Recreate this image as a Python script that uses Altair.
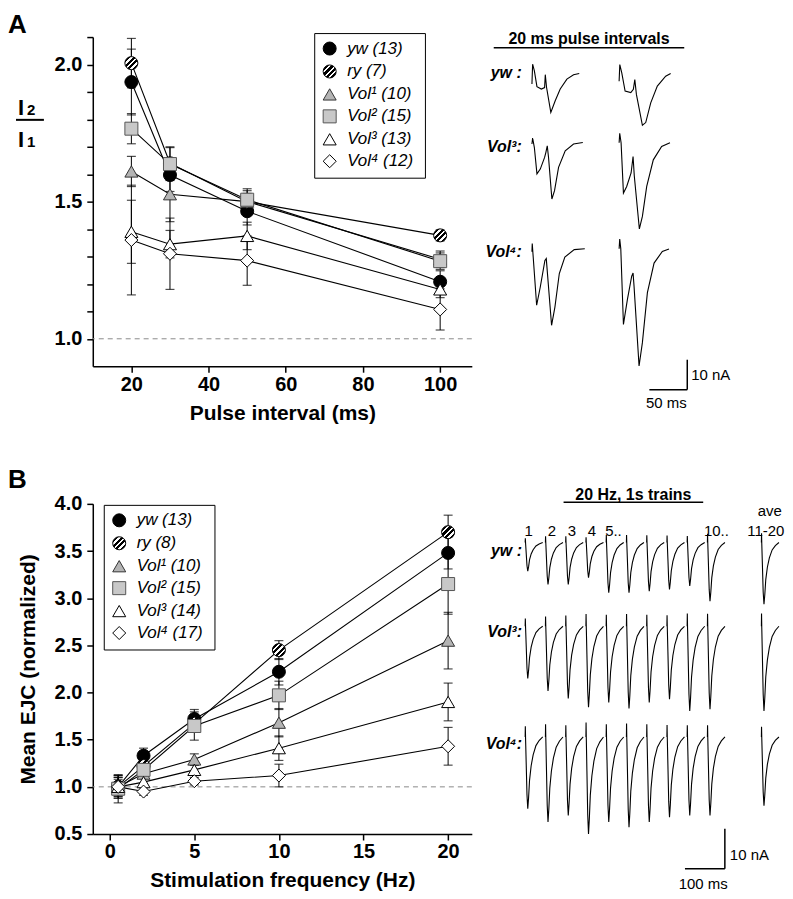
import altair as alt
import pandas as pd

FONT = "Liberation Sans"

# ---------------- Panel A : paired-pulse ratio ----------------
A_INTERVAL = [20, 30, 50, 100]
A_LABELS = ["yw (13)", "ry (7)", "Vol¹  (10)", "Vol²  (15)", "Vol³  (13)", "Vol⁴  (12)"]
A_YW = [1.936, 1.597, 1.465, 1.208]
A_RY = [2.005, 1.640, 1.500, 1.377]
A_V1 = [1.610, 1.527, 1.500, 1.290]
A_V2 = [1.766, 1.637, 1.507, 1.283]
A_V3 = [1.390, 1.345, 1.375, 1.180]
A_V4 = [1.360, 1.310, 1.285, 1.107]
A_YW_ERR = [0.12, 0.06, 0.05, 0.04]
A_RY_ERR = [0.09, 0.06, 0.04, 0.02]
A_V1_ERR = [0.055, 0.10, 0.03, 0.03]
A_V2_ERR = [0.055, 0.06, 0.04, 0.03]
A_V3_ERR = [0.115, 0.05, 0.05, 0.03]
A_V4_ERR = [0.20, 0.13, 0.09, 0.075]

# ---------------- Panel B : frequency dependence ----------------
B_FREQ = [0.5, 2, 5, 10, 20]
B_LABELS = ["yw (13)", "ry (8)", "Vol¹  (10)", "Vol²  (15)", "Vol³  (14)", "Vol⁴  (17)"]
B_YW = [1.00, 1.33, 1.72, 2.22, 3.48]
B_RY = [1.00, 1.22, 1.67, 2.45, 3.70]
B_V1 = [1.00, 1.14, 1.29, 1.68, 2.55]
B_V2 = [0.98, 1.18, 1.645, 1.97, 3.15]
B_V3 = [1.00, 1.05, 1.18, 1.41, 1.90]
B_V4 = [1.00, 0.95, 1.06, 1.12, 1.43]
B_YW_ERR = [0.12, 0.08, 0.10, 0.14, 0.17]
B_RY_ERR = [0.12, 0.06, 0.08, 0.10, 0.18]
B_V1_ERR = [0.10, 0.05, 0.06, 0.15, 0.30]
B_V2_ERR = [0.15, 0.06, 0.15, 0.15, 0.32]
B_V3_ERR = [0.10, 0.05, 0.05, 0.13, 0.20]
B_V4_ERR = [0.08, 0.04, 0.04, 0.12, 0.20]

# marker styles (same order as the labels)
SHAPES = ["circle", "circle", "triangle-up", "square", "triangle-up", "diamond"]
HATCH = ("{gradient: 'linear', x1: 0, y1: 0, x2: 1, y2: 1, stops: ["
         "{offset: 0, color: 'black'}, {offset: 0.24, color: 'black'},"
         "{offset: 0.24, color: 'white'}, {offset: 0.33, color: 'white'},"
         "{offset: 0.33, color: 'black'}, {offset: 0.46, color: 'black'},"
         "{offset: 0.46, color: 'white'}, {offset: 0.55, color: 'white'},"
         "{offset: 0.55, color: 'black'}, {offset: 0.67, color: 'black'},"
         "{offset: 0.67, color: 'white'}, {offset: 0.76, color: 'white'},"
         "{offset: 0.76, color: 'black'}, {offset: 1, color: 'black'}]}")
FILLS = ["black", {"expr": HATCH}, "#b4b4b4", "#c8c8c8", "white", "white"]
STROKES = ["black", "black", "#333333", "#555555", "black", "black"]
SIZES = [170, 170, 200, 180, 200, 230]

# ---------------- recorded traces, panel A (t in ms, I in nA) ----------------
TR_A_YW_1 = [(0, -3.5), (0.9, 3.1), (3.2, 0.9), (6.6, -4.4), (12.4, -5.2), (16.7, -4.7), (17.6, -0.4),
             (19.3, -4.7), (24.9, -13.0), (30.7, -9.1), (37.3, -5.2), (46.1, -1.9), (54.9, -0.4), (62.4, 0)]
TR_A_YW_2 = [(0, -2.6), (0.9, 3.0), (3.5, 0.2), (7.9, -5.9), (15.4, -6.4), (18.8, -5.3), (20.7, -2.0),
             (22.8, -7.0), (30.7, -17.3), (35.1, -16.4), (41.7, -9.8), (50.4, -4.2), (61.4, -0.9), (68, 0)]
TR_A_V3_1 = [(0, -0.4), (0.9, 1.6), (3.2, -1.6), (6.6, -10.4), (11, -8.8), (16.7, -4.9), (18.4, -3.2),
             (20.2, -1.0), (21.9, -4.9), (26.3, -18.8), (29.8, -16.0), (35.1, -8.2), (43.9, -2.7),
             (54.9, -0.4), (67.1, 0.1)]
TR_A_V3_2 = [(0, 0), (0.8, 3.2), (2.6, 0), (5.7, -16.8), (10, -14.6), (15.8, -10.1), (18.4, -4.6),
             (20, -11), (26.7, -28.8), (30.7, -24.6), (36.4, -14.6), (45.1, -5.7), (56.1, -1.2), (67.1, 0)]
TR_A_V4_1 = [(0, -1), (0.4, 1.7), (6.2, -18.9), (11, -12.8), (17.1, -3.9), (18.9, -3.3), (25.9, -25.6),
             (30.3, -19.5), (36.1, -8.3), (43.4, -2.8), (55.8, -0.3), (69.7, 0)]
TR_A_V4_2 = [(0, 0), (0.8, 3.2), (2.2, 0), (5.7, -25.3), (10.9, -17), (16.6, -9.2), (18.4, -8.1),
             (19.7, -12.6), (26.3, -39.2), (30.7, -31.4), (37.3, -14.7), (46.1, -4.8), (57, -0.9), (65.8, -0.1)]

# ---------------- recorded traces, panel B ----------------
SWEEP_T = [0, 0.4, 1.0, 2.5, 4.5, 6.5, 8.5, 11, 15, 20, 27, 35, 44]
SWEEP_F = [0, 0.15, -0.02, -0.35, -0.8, -1.0, -0.85, -0.6, -0.4, -0.25, -0.12, -0.05, 0]
TR_B_YW = [7.2, 10.5, 10.5, 8.8, 12.6, 12.6, 12.2, 11.8, 10.9, 14.7]
TR_B_V3 = [13.1, 16.2, 18.1, 20.3, 19.1, 20.6, 19.1, 18.3, 21.2, 20.8]
TR_B_V4 = [18.0, 21.3, 19.7, 24.3, 21.3, 22.6, 21.3, 20.1, 19.7, 19.7]
TR_B_AVE = [15.5, 21.2, 17.2]
B_NUMBERS = ["1", "2", "3", "4", "5..", "10.."]

# ---------------- layout constants ----------------
PW, PH_A, PH_B = 380, 330, 331
TW = 310
A_ROW_OFF = [-12.17, -35.33, -70.73]
A_COL_OFF = [76.7, 191.7]
B_ROW_OFF = [-9.68, -30.68, -58.43]
B_START, B_STEP, B_AVE_START = 128.75, 50.75, 720.8


def series_frame(xs, labels, means, errs):
    rows = []
    for lab, m, e in zip(labels, means, errs):
        for x, mv, ev in zip(xs, m, e):
            rows.append({"x": x, "series": lab, "mean": mv, "lo": mv - ev, "hi": mv + ev})
    return pd.DataFrame(rows)


dfA = series_frame(A_INTERVAL, A_LABELS, [A_YW, A_RY, A_V1, A_V2, A_V3, A_V4],
                   [A_YW_ERR, A_RY_ERR, A_V1_ERR, A_V2_ERR, A_V3_ERR, A_V4_ERR])
dfB = series_frame(B_FREQ, B_LABELS, [B_YW, B_RY, B_V1, B_V2, B_V3, B_V4],
                   [B_YW_ERR, B_RY_ERR, B_V1_ERR, B_V2_ERR, B_V3_ERR, B_V4_ERR])

one = pd.DataFrame({"v": [1.0]})


def legend(lx, ly):
    return alt.Legend(orient="none", legendX=lx, legendY=ly, title=None, strokeColor="black",
                      fillColor="white", padding=7, labelFont=FONT, labelFontSize=17,
                      labelFontStyle="italic", labelColor="black",
                      symbolStrokeWidth=1, rowPadding=4, labelOffset=9)


def data_plot(df, labels, xscale, yscale, xaxis, yaxis, leg, extra):
    X = alt.X("x:Q", scale=xscale, axis=xaxis)

    def Y(f):
        return alt.Y(f + ":Q", scale=yscale, axis=yaxis)

    base = alt.Chart(df)
    dashed = alt.Chart(one).mark_rule(color="#8a8a8a", strokeDash=[5, 4], strokeWidth=1).encode(y=Y("v"))
    bars = base.mark_rule(color="black", strokeWidth=1).encode(x=X, y=Y("lo"), y2="hi:Q")
    cap_lo = base.mark_tick(orient="horizontal", size=9, thickness=1.2, color="black").encode(x=X, y=Y("lo"))
    cap_hi = base.mark_tick(orient="horizontal", size=9, thickness=1.2, color="black").encode(x=X, y=Y("hi"))
    lines = base.mark_line(color="black", strokeWidth=1.1).encode(x=X, y=Y("mean"), detail="series:N")
    pts = base.mark_point(filled=True, strokeWidth=1, opacity=1).encode(
        x=X, y=Y("mean"),
        fill=alt.Fill("series:N", scale=alt.Scale(domain=labels, range=FILLS), legend=leg),
        stroke=alt.Stroke("series:N", scale=alt.Scale(domain=labels, range=STROKES), legend=leg),
        shape=alt.Shape("series:N", scale=alt.Scale(domain=labels, range=SHAPES), legend=leg),
        size=alt.Size("series:N", scale=alt.Scale(domain=labels, range=SIZES), legend=leg),
    )
    return alt.layer(dashed, bars, cap_lo, cap_hi, lines, pts, *extra)


def text_at(txt, x, y, size, weight="bold", style="normal", align="left", baseline="alphabetic"):
    return alt.Chart(one).mark_text(text=txt, font=FONT, fontSize=size, fontWeight=weight,
                                    fontStyle=style, align=align, baseline=baseline,
                                    color="black").encode(x=alt.value(x), y=alt.value(y))


AX = dict(labelFont=FONT, titleFont=FONT, labelFontWeight="bold", titleFontWeight="bold",
          labelFontSize=20, titleFontSize=21, labelColor="black", titleColor="black",
          domainColor="black", tickColor="black", domainWidth=1.5, tickWidth=1.5, tickSize=6,
          grid=False, labelFlush=False, labelOverlap=False)

# ---------- plot A ----------
xA = alt.Scale(domain=[10, 108.2], nice=False, zero=False)
yA = alt.Scale(domain=[0.9, 2.1], nice=False, zero=False)
axA_x = alt.Axis(values=[20, 40, 60, 80, 100], format="d", title="Pulse interval (ms)", titlePadding=8, **AX)
axA_y = alt.Axis(values=[1.0, 1.1, 1.2, 1.3, 1.4, 1.5, 1.6, 1.7, 1.8, 1.9, 2.0, 2.1], title=None,
                 labelPadding=5,
                 labelExpr="abs(datum.value*2 - round(datum.value*2)) < 0.01 ? format(datum.value, '.1f') : ''",
                 **AX)
fracA = [
    text_at("I", -75, 78.5, 22),
    text_at("2", -66, 78.5, 15),
    alt.Chart(one).mark_rule(color="black", strokeWidth=2).encode(
        x=alt.value(-77), x2=alt.value(-49), y=alt.value(83)),
    text_at("I", -75, 110.5, 22),
    text_at("1", -66, 110.5, 15),
    text_at("A", -85, -4.5, 26),
]
plotA = data_plot(dfA, A_LABELS, xA, yA, axA_x, axA_y, legend(222, -4),
                  fracA).properties(width=PW, height=PH_A)

# ---------- plot B ----------
xB = alt.Scale(domain=[-1, 21.4], nice=False, zero=False)
yB = alt.Scale(domain=[0.5, 4.0], nice=False, zero=False)
axB_x = alt.Axis(values=[0, 5, 10, 15, 20], format="d", title="Stimulation frequency (Hz)", titlePadding=8, **AX)
axB_y = alt.Axis(values=[0.5, 1.0, 1.5, 2.0, 2.5, 3.0, 3.5, 4.0], format=".1f", labelPadding=5,
                 title="Mean EJC (normalized)", titlePadding=16, **AX)
plotB = data_plot(dfB, B_LABELS, xB, yB, axB_x, axB_y, legend(11, 1),
                  [text_at("B", -85, -16.3, 26)]).properties(width=PW, height=PH_B)

# ---------- trace panels ----------
rowsA = []
for r, pair in enumerate([(TR_A_YW_1, TR_A_YW_2), (TR_A_V3_1, TR_A_V3_2), (TR_A_V4_1, TR_A_V4_2)]):
    for c, tr in enumerate(pair):
        for k, (t, i) in enumerate(tr):
            rowsA.append({"id": f"a{r}{c}", "k": k, "t": A_COL_OFF[c] + t, "I": A_ROW_OFF[r] + i})
trA = pd.DataFrame(rowsA)

rowsB = []
for r, amps in enumerate([TR_B_YW, TR_B_V3, TR_B_V4]):
    starts = [B_START + B_STEP * s for s in range(len(amps))] + [B_AVE_START]
    for s, (t0, amp) in enumerate(zip(starts, amps + [TR_B_AVE[r]])):
        for k, (t, f) in enumerate(zip(SWEEP_T, SWEEP_F)):
            rowsB.append({"id": f"b{r}_{s}", "k": k, "t": t0 + t, "I": B_ROW_OFF[r] + amp * f})
trB = pd.DataFrame(rowsB)


def trace_panel(df, xdom, ydom, texts, hrules, vrules, width, height):
    sx = alt.Scale(domain=xdom, nice=False, zero=False)
    sy = alt.Scale(domain=ydom, nice=False, zero=False)
    X = alt.X("t:Q", scale=sx, axis=None)
    Y = alt.Y("I:Q", scale=sy, axis=None)
    layers = [alt.Chart(df).mark_line(color="black", strokeWidth=1.1).encode(
        x=X, y=Y, detail="id:N", order="k:Q")]
    layers.append(alt.Chart(pd.DataFrame(hrules, columns=["t", "t2", "I"])).mark_rule(
        color="black", strokeWidth=1.5).encode(x=X, x2="t2:Q", y=Y))
    layers.append(alt.Chart(pd.DataFrame(vrules, columns=["t", "I", "I2"])).mark_rule(
        color="black", strokeWidth=1.5).encode(x=X, y=Y, y2="I2:Q"))
    for (rows, size, weight, style, align) in texts:
        layers.append(alt.Chart(pd.DataFrame(rows, columns=["t", "I", "txt"])).mark_text(
            font=FONT, fontSize=size, fontWeight=weight, fontStyle=style, align=align,
            baseline="middle", color="black").encode(x=X, y=Y, text="txt:N"))
    return alt.layer(*layers).properties(width=width, height=height)


traceA = trace_panel(
    trA, [0, TW / 0.76], [-110, 0],
    [
        ([(152, -0.5, "20 ms pulse intervals")], 16, "bold", "normal", "center"),
        ([(63.2, -12.17, "yw :"), (63.2, -36.83, "Vol³:"), (63.2, -71.83, "Vol⁴:")], 16, "bold", "italic", "right"),
        ([(286.8, -112.83, "10 nA")], 15, "normal", "normal", "left"),
        ([(254, -122.33, "50 ms")], 15, "normal", "normal", "center"),
    ],
    [(26.3, 277.6, -3.6), (231.6, 281.6, -117.83)],
    [(281.6, -107.83, -117.83)],
    TW, PH_A,
)

traceB = trace_panel(
    trB, [0, TW / 0.4], [-82.75, 0],
    [
        ([(400, 2.33, "20 Hz, 1s trains")], 16, "bold", "normal", "center"),
        ([(120.75, -11.85, "yw :"), (120.75, -32.18, "Vol³:"), (120.75, -60.18, "Vol⁴:")], 16, "bold", "italic", "right"),
        ([(t, -6.85, s) for t, s in zip([137.5, 195.8, 245.8, 295.8, 350, 608], B_NUMBERS)]
         + [(742, -1.85, "ave"), (732, -6.85, "11-20")], 15, "normal", "normal", "center"),
        ([(641.75, -88.1, "10 nA")], 15, "normal", "normal", "left"),
        ([(575, -95.18, "100 ms")], 15, "normal", "normal", "center"),
    ],
    [(225, 575, 0.4), (529.25, 629.25, -91.43)],
    [(629.25, -81.43, -91.43)],
    TW, PH_B,
)

RES = dict(fill="independent", shape="independent", size="independent", stroke="independent")

chart = (
    alt.concat(plotA, traceA, plotB, traceB, columns=2, spacing={"row": 138, "column": 2}, bounds="flush")
    .resolve_scale(**RES)
    .properties(padding={"left": 0, "top": 2, "right": 0, "bottom": 0}, background="white")
    .configure_view(stroke=None)
)

chart.save("out.html", embed_options={"renderer": "svg", "actions": False})
